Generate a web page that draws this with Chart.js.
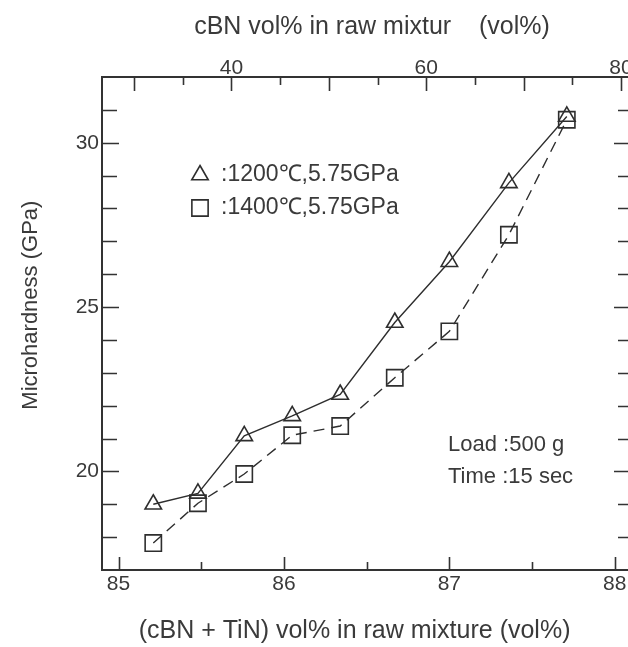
<!DOCTYPE html>
<html>
<head>
<meta charset="utf-8">
<script src="https://cdn.jsdelivr.net/npm/chart.js@4.4.1/dist/chart.umd.min.js"></script>
<style>
  html, body { margin: 0; padding: 0; background: #fff; }
  #wrap { width: 628px; height: 647px; position: relative; }
</style>
</head>
<body>
<div id="wrap"><canvas id="hardnessChart"></canvas></div>
<script>
// (cBN + TiN) vol% in raw mixture, same compositions for both runs
const compositions = [85.21, 85.48, 85.76, 86.05, 86.34, 86.67, 87.0, 87.36, 87.71];
// microhardness, GPa
const hardness1200 = [19.0, 19.33, 21.08, 21.69, 22.34, 24.53, 26.38, 28.78, 30.8];
const hardness1400 = [17.82, 19.03, 19.92, 21.1, 21.38, 22.85, 24.26, 27.2, 30.7];
const seriesLabels = [':1200℃,5.75GPa', ':1400℃,5.75GPa'];

const bottomTickLabels = [85, 86, 87, 88];
const leftTickLabels = [20, 25, 30];
const topTickLabels = [40, 60, 80];
const noteLines = ['Load :500 g', 'Time :15 sec'];

const lineColor = '#2e2e2e';
const axisColor = '#333';
const textColor = '#3a3a3a';
Chart.defaults.font.family = "'Liberation Sans', Arial, Helvetica, sans-serif";
Chart.defaults.color = textColor;

const toPoints = ys => compositions.map((x, i) => ({ x: x, y: ys[i] }));

// ticks in this figure point into the plot, on all four sides
const innerTicks = {
  id: 'innerTicks',
  afterDraw(chart) {
    const { ctx, chartArea: a, scales } = chart;
    const x = scales.x, xTop = scales.xTop, y = scales.y;
    ctx.save();
    ctx.strokeStyle = axisColor;
    ctx.lineWidth = 1.6;
    ctx.beginPath();
    y.ticks.forEach(t => {
      if (t.value <= y.min || t.value >= y.max) return;
      const py = Math.round(y.getPixelForValue(t.value)) + 0.5;
      const major = t.value % 5 === 0;
      ctx.moveTo(a.left, py); ctx.lineTo(a.left + (major ? 17 : 15), py);
      ctx.moveTo(a.right, py); ctx.lineTo(a.right - (major ? 14 : 10), py);
    });
    x.ticks.forEach(t => {
      if (t.value <= x.min || t.value >= x.max) return;
      const px = Math.round(x.getPixelForValue(t.value)) + 0.5;
      const major = Number.isInteger(t.value);
      ctx.moveTo(px, a.bottom); ctx.lineTo(px, a.bottom - (major ? 13 : 8));
    });
    xTop.ticks.forEach(t => {
      if (t.value <= xTop.min || t.value >= xTop.max) return;
      const px = Math.round(xTop.getPixelForValue(t.value)) + 0.5;
      const major = t.value % 10 === 0;
      ctx.moveTo(px, a.top); ctx.lineTo(px, a.top + (major ? 14 : 8));
    });
    ctx.stroke();
    ctx.restore();
  }
};

// legend and test conditions written inside the plot
const figureNotes = {
  id: 'figureNotes',
  afterDraw(chart) {
    const { ctx, chartArea: a } = chart;
    ctx.save();
    ctx.textBaseline = 'middle';
    ctx.font = "23px 'Liberation Sans', Arial, sans-serif";
    chart.data.datasets.forEach((ds, i) => {
      const cy = a.top + 98 + i * 33;
      ctx.strokeStyle = lineColor;
      ctx.fillStyle = 'rgba(0,0,0,0)';
      ctx.lineWidth = ds.pointBorderWidth;
      Chart.helpers.drawPoint(ctx, {
        pointStyle: ds.pointStyle, radius: ds.pointRadius, borderWidth: ds.pointBorderWidth, rotation: 0
      }, a.left + 98, cy);
      ctx.fillStyle = textColor;
      ctx.fillText(ds.label, a.left + 119, cy);
    });
    ctx.font = "22px 'Liberation Sans', Arial, sans-serif";
    ctx.fillStyle = textColor;
    noteLines.forEach((line, i) => {
      ctx.fillText(line, a.left + 346, a.top + 368 + i * 32);
    });
    ctx.restore();
  }
};

const ctx = document.getElementById('hardnessChart').getContext('2d');
const hardnessChart = new Chart(ctx, {
  type: 'line',
  data: {
    datasets: [
      {
        label: seriesLabels[0],
        data: toPoints(hardness1200),
        xAxisID: 'x',
        yAxisID: 'y',
        borderColor: lineColor,
        borderWidth: 1.4,
        pointStyle: 'triangle',
        pointRadius: 9.5,
        pointBorderWidth: 1.6,
        pointBorderColor: lineColor,
        pointBackgroundColor: 'rgba(0,0,0,0)',
        tension: 0,
      },
      {
        label: seriesLabels[1],
        data: toPoints(hardness1400),
        xAxisID: 'x',
        yAxisID: 'y',
        borderColor: lineColor,
        borderWidth: 1.4,
        borderDash: [11, 7],
        pointStyle: 'rect',
        pointRadius: 11.5,
        pointBorderWidth: 1.6,
        pointBorderColor: lineColor,
        pointBackgroundColor: 'rgba(0,0,0,0)',
        tension: 0,
      }
    ]
  },
  options: {
    responsive: true,
    maintainAspectRatio: false,
    animation: false,
    layout: { padding: 0, autoPadding: false },
    plugins: {
      legend: { display: false },
      tooltip: { enabled: false }
    },
    scales: {
      x: {
        type: 'linear',
        position: 'bottom',
        min: 84.9,
        max: 88.08,
        afterFit: s => { s.height = 77; s.paddingLeft = 0; s.paddingRight = 0; },
        grid: { display: false, drawTicks: false },
        border: { color: axisColor, width: 2 },
        ticks: {
          stepSize: 0.5,
          includeBounds: false,
          autoSkip: false,
          maxRotation: 0,
          padding: 2,
          color: textColor,
          font: { size: 21 },
          callback: v => bottomTickLabels.includes(v) ? String(v) : '',
        },
        title: {
          display: true,
          text: '(cBN + TiN) vol% in raw mixture (vol%)   ',
          color: textColor,
          font: { size: 25 },
          padding: { top: 0, bottom: 1 }
        }
      },
      xTop: {
        type: 'linear',
        position: 'top',
        min: 26.71,
        max: 80.72,
        afterFit: s => { s.height = 77; s.paddingLeft = 0; s.paddingRight = 0; },
        grid: { display: false, drawTicks: false },
        border: { color: axisColor, width: 2 },
        ticks: {
          stepSize: 5,
          includeBounds: false,
          autoSkip: false,
          maxRotation: 0,
          padding: -4,
          color: textColor,
          font: { size: 21 },
          callback: v => topTickLabels.includes(v) ? String(v) : '',
        },
        title: {
          display: true,
          text: '  cBN vol% in raw mixtur    (vol%)',
          color: textColor,
          font: { size: 25 },
          padding: { top: 12, bottom: 0 }
        }
      },
      y: {
        type: 'linear',
        position: 'left',
        min: 17,
        max: 32,
        afterFit: s => { s.width = 102; s.paddingTop = 0; s.paddingBottom = 0; },
        grid: { display: false, drawTicks: false },
        border: { color: axisColor, width: 2 },
        ticks: {
          stepSize: 1,
          autoSkip: false,
          padding: 3,
          color: textColor,
          font: { size: 21 },
          callback: v => leftTickLabels.includes(v) ? String(v) : '',
        },
        title: {
          display: true,
          text: '      Microhardness (GPa)',
          color: textColor,
          font: { size: 22 },
          padding: { top: 18, bottom: 0 }
        }
      }
    }
  },
  plugins: [innerTicks, figureNotes]
});
</script>
</body>
</html>
